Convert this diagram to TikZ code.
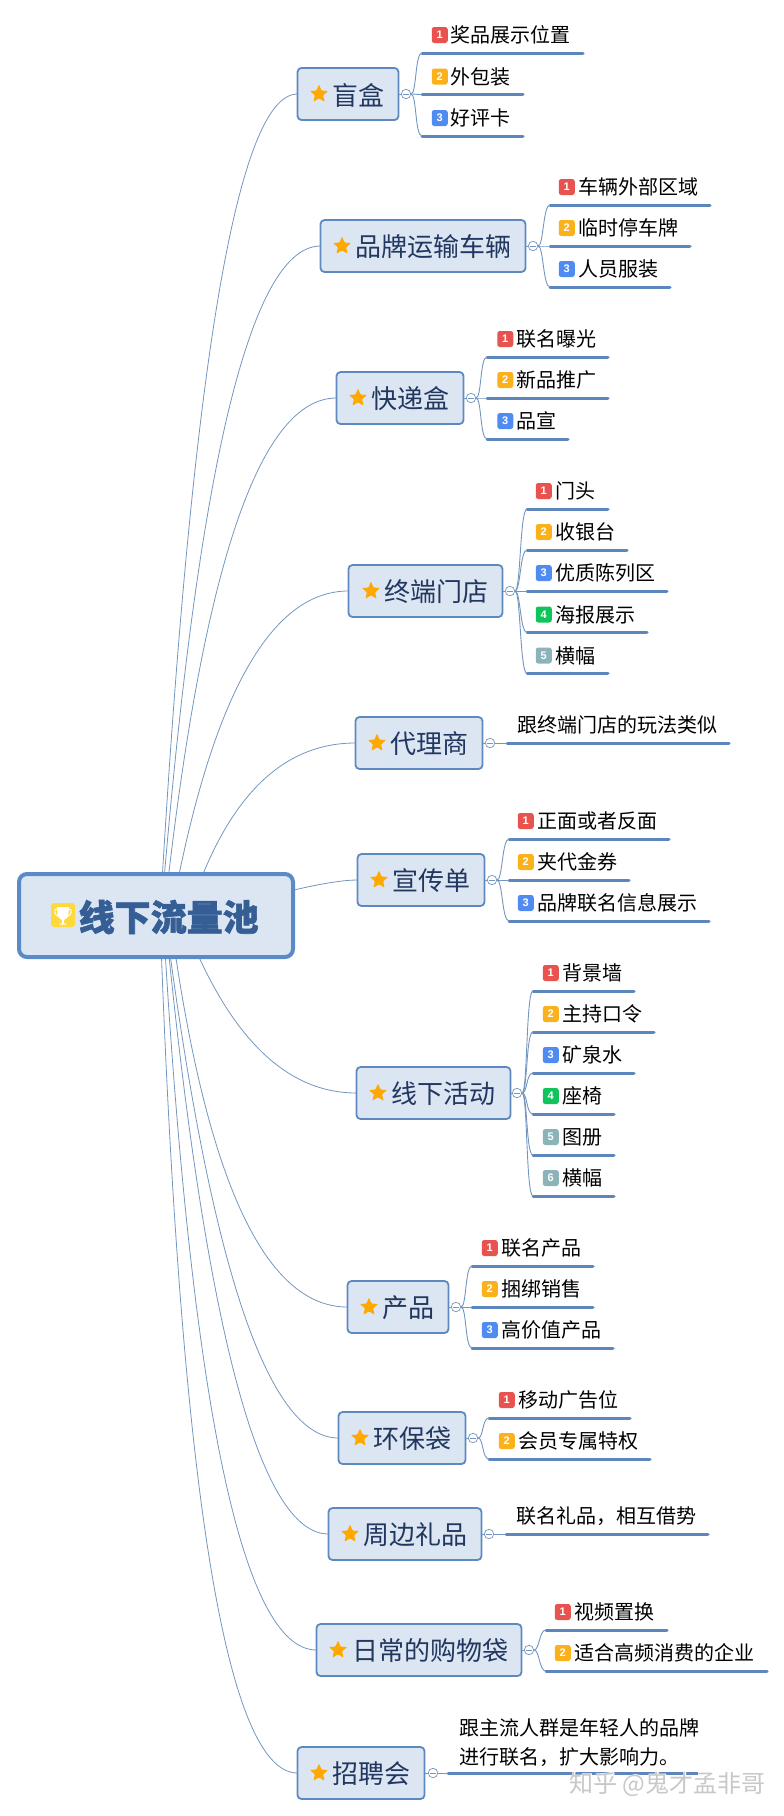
\documentclass[tikz,border=0pt]{standalone}
\usepackage{fontspec}
\setmainfont{Noto Sans CJK SC}
\newfontfamily\digitfont{Liberation Sans}
\newfontfamily\haloCJK{Noto Sans CJK SC}[FakeBold=5]
\newfontfamily\rootCJK{Noto Sans CJK SC}[BoldFeatures={FakeBold=1.6}]
\usetikzlibrary{shapes.geometric,backgrounds,calc}
\definecolor{boxfill}{HTML}{DCE6F3}
\definecolor{boxline}{HTML}{5E89C0}
\definecolor{rootline}{HTML}{5B8AC8}
\definecolor{topictext}{HTML}{22375F}
\definecolor{roottext}{HTML}{355E95}
\definecolor{curve}{HTML}{7396C0}
\definecolor{subline}{HTML}{5D87BC}
\definecolor{staror}{HTML}{FFA800}
\definecolor{bA}{HTML}{E8524F}
\definecolor{bB}{HTML}{FBB11C}
\definecolor{bC}{HTML}{4F8BF0}
\definecolor{bD}{HTML}{10C35B}
\definecolor{bE}{HTML}{8CB4B8}
\tikzset{
  topicbox/.style={draw=boxline,fill=boxfill,line width=1.8pt,rounded corners=4pt,inner sep=0pt,outer sep=0pt},
  topictxt/.style={anchor=west,inner sep=0pt,text=topictext,font=\fontsize{26}{26}\selectfont},
  topicstar/.style={star,star points=5,star point ratio=2.2,minimum size=19pt,inner sep=0pt,fill=staror,rounded corners=0.8pt},
  subtxt/.style={anchor=west,inner sep=0pt,text=black,font=\fontsize{20}{29}\selectfont},
  badge/.style={minimum size=16pt,inner sep=0pt,rounded corners=2.5pt,text=white,font=\digitfont\bfseries\fontsize{11}{11}\selectfont},
  collapse/.style={circle,draw=curve,fill=white,line width=0.7pt,minimum size=9.5pt,inner sep=0pt,
    path picture={\draw[curve,line width=0.7pt,shorten >=1.6pt,shorten <=1.6pt] (path picture bounding box.west) -- (path picture bounding box.east);}},
  branch/.style={draw=curve,line width=0.9pt},
  main/.style={draw=curve,line width=0.8pt},
  bar/.style={draw=subline,line width=3pt,line cap=round},
}
% id, x0, x1, yc, star x, text x, circle x, text
\newcommand{\topicnode}[8]{%
  \node[topicbox,minimum width={(#3-#2-1)*1pt},minimum height=52pt] (#1) at ({(#2+#3)/2},#4) {};
  \node[topicstar] (#1star) at (#5,#4) {};
  \node[topictxt] (#1text) at (#6,#4+1) {#8};
  \node[collapse] (#1c) at (#7,#4) {};
  \draw[branch] (#1.east) -- (#1c.west);
}
% parent, id, text x, line start, line end, line y, text
\newcommand{\plainleaf}[7]{%
  \node[subtxt] (#2t) at (#3,#6-18) {#7};
  \coordinate (#2p) at (#4,#6);
  \coordinate (#2q) at (#5,#6);
  \draw[bar] (#2p) -- (#2q);
  \draw[branch] (#1c.east) -- (#2p);
}
% parent, line start, line end, line y, badge x, text x, digit, colour, text
\newcommand{\leaf}[9]{%
  \node[badge,fill=#8] (#1l#7b) at ({#5+7.75},#4-18) {#7};
  \node[subtxt] (#1l#7t) at (#6+0.7,#4-18) {#9};
  \coordinate (#1l#7p) at (#2,#4);
  \coordinate (#1l#7q) at (#3,#4);
  \draw[bar] (#1l#7p) -- (#1l#7q);
  \draw[branch] (#1c.east) .. controls ($(#1c.east)+(5.5,0)$) and ($(#1l#7p)+(-7,0)$) .. (#1l#7p);
}
% root curve: topic, start x behind the root box, control x (level with the topic)
\newcommand{\rootcurve}[3]{%
  \coordinate (#1s) at (#2,916);
  \path let \p1=(#1.west) in (#3pt,\y1) coordinate (#1ctl);
  \draw[main] (#1s) .. controls ($(#1s)!0.6667!(#1ctl)$) and ($(#1.west)!0.6667!(#1ctl)$) .. (#1.west);
}
\begin{document}
\begin{tikzpicture}[x=1pt,y=-1pt]
\useasboundingbox (0,0) rectangle (784,1816);

\node[draw=rootline,fill=boxfill,line width=4pt,rounded corners=8pt,inner sep=0pt,outer sep=0pt,minimum width=274pt,minimum height=83pt] (root) at (156,915.5) {};
\node[fill={rgb,255:red,255;green,216;blue,58},rounded corners=3pt,minimum size=24pt,inner sep=0pt] (cup) at (63,915) {};
\fill[white] (57,907) -- (69,907) -- (68.5,914) .. controls (68,918) and (65,919.5) .. (64,920) -- (64,923) -- (67,924.5) -- (59,924.5) -- (62,923) -- (62,920) .. controls (61,919.5) and (58,918) .. (57.5,914) -- cycle;
\draw[white,line width=1pt] (57,909) .. controls (53.5,909) and (54,915) .. (58.5,916.5);
\draw[white,line width=1pt] (69,909) .. controls (72.5,909) and (72,915) .. (67.5,916.5);
\node[anchor=west,inner sep=0pt,text=roottext,font=\rootCJK\bfseries\fontsize{36}{36}\selectfont] (roottxt) at (78.5,917) {线下流量池};

% ---------- topics
\topicnode{a}{297}{399}{94}{319}{332}{406}{盲盒}
\leaf{a}{422}{583}{53}{432}{450}{1}{bA}{奖品展示位置}
\leaf{a}{422}{523}{94.5}{432}{450}{2}{bB}{外包装}
\leaf{a}{422}{523}{136}{432}{450}{3}{bC}{好评卡}

\topicnode{b}{320}{526}{246}{342}{355}{533}{品牌运输车辆}
\leaf{b}{550}{710}{205}{559}{577.5}{1}{bA}{车辆外部区域}
\leaf{b}{550}{690}{246}{559}{577.5}{2}{bB}{临时停车牌}
\leaf{b}{550}{670}{287}{559}{577.5}{3}{bC}{人员服装}

\topicnode{c}{336}{464}{398}{358}{371}{471}{快递盒}
\leaf{c}{487}{608}{357}{497.5}{515.5}{1}{bA}{联名曝光}
\leaf{c}{487}{608}{398}{497.5}{515.5}{2}{bB}{新品推广}
\leaf{c}{487}{568}{439}{497.5}{515.5}{3}{bC}{品宣}

\topicnode{d}{348}{503}{591}{371}{384}{510}{终端门店}
\leaf{d}{527}{608}{509}{536}{555}{1}{bA}{门头}
\leaf{d}{527}{627}{550}{536}{555}{2}{bB}{收银台}
\leaf{d}{527}{667}{591}{536}{555}{3}{bC}{优质陈列区}
\leaf{d}{527}{647}{632.5}{536}{555}{4}{bD}{海报展示}
\leaf{d}{527}{608}{673.5}{536}{555}{5}{bE}{横幅}

\topicnode{e}{355}{483}{743}{377}{390.5}{490}{代理商}
\plainleaf{e}{e1}{517}{507}{729}{743}{跟终端门店的玩法类似}

\topicnode{f}{357}{485}{880}{379}{392.5}{492}{宣传单}
\leaf{f}{509}{669}{839}{518}{536.5}{1}{bA}{正面或者反面}
\leaf{f}{509}{629}{880}{518}{536.5}{2}{bB}{夹代金券}
\leaf{f}{509}{709}{921}{518}{536.5}{3}{bC}{品牌联名信息展示}

\topicnode{g}{356}{511}{1093}{378}{391.5}{517}{线下活动}
\leaf{g}{533}{634}{991}{543}{561.5}{1}{bA}{背景墙}
\leaf{g}{533}{654}{1032}{543}{561.5}{2}{bB}{主持口令}
\leaf{g}{533}{634}{1073}{543}{561.5}{3}{bC}{矿泉水}
\leaf{g}{533}{614}{1114}{543}{561.5}{4}{bD}{座椅}
\leaf{g}{533}{614}{1155}{543}{561.5}{5}{bE}{图册}
\leaf{g}{533}{614}{1196}{543}{561.5}{6}{bE}{横幅}

\topicnode{h}{347}{449}{1307}{369}{382}{456}{产品}
\leaf{h}{472}{593}{1266}{482}{500.5}{1}{bA}{联名产品}
\leaf{h}{472}{593}{1307}{482}{500.5}{2}{bB}{捆绑销售}
\leaf{h}{472}{613}{1348}{482}{500.5}{3}{bC}{高价值产品}

\topicnode{i}{338}{466}{1438}{360}{373}{473}{环保袋}
\leaf{i}{489}{630}{1418}{499}{517.5}{1}{bA}{移动广告位}
\leaf{i}{489}{650}{1459}{499}{517.5}{2}{bB}{会员专属特权}

\topicnode{j}{328}{482}{1534}{350}{363}{489}{周边礼品}
\plainleaf{j}{j1}{516.5}{506}{708}{1534}{联名礼品，相互借势}

\topicnode{k}{316}{522}{1650}{338}{352}{529}{日常的购物袋}
\leaf{k}{546}{667}{1630}{555}{573.5}{1}{bA}{视频置换}
\leaf{k}{546}{767}{1671}{555}{573.5}{2}{bB}{适合高频消费的企业}

\topicnode{m}{297}{425}{1773}{319}{332}{433}{招聘会}
\node[subtxt,align=left,anchor=west] (m1t) at (459,1742.5) {跟主流人群是年轻人的品牌\\进行联名，扩大影响力。};
\coordinate (m1p) at (448,1773);
\coordinate (m1q) at (700,1773);
\draw[bar] (m1p) -- (m1q);
\draw[branch] (mc.east) -- (m1p);

% ---------- watermark
\node[anchor=center,inner sep=0pt,text=white,font=\haloCJK\fontsize{24}{24}\selectfont] (wmh) at (667.5,1784) {知乎 @鬼才孟非哥};
\node[anchor=center,inner sep=0pt,text={rgb,255:red,200;green,200;blue,200},font=\fontsize{24}{24}\selectfont] (wm) at (667.5,1784) {知乎 @鬼才孟非哥};

% ---------- root connectors, under the boxes
\begin{pgfonlayer}{background}
\rootcurve{a}{160}{207}
\rootcurve{b}{161}{215}
\rootcurve{c}{164}{220}
\rootcurve{d}{171}{230}
\rootcurve{e}{188}{242}
\rootcurve{f}{200}{318}
\rootcurve{g}{182}{248}
\rootcurve{h}{170}{222}
\rootcurve{i}{165}{232}
\rootcurve{j}{165}{225}
\rootcurve{k}{163}{205}
\rootcurve{m}{160}{190}
\end{pgfonlayer}
\end{tikzpicture}
\end{document}
